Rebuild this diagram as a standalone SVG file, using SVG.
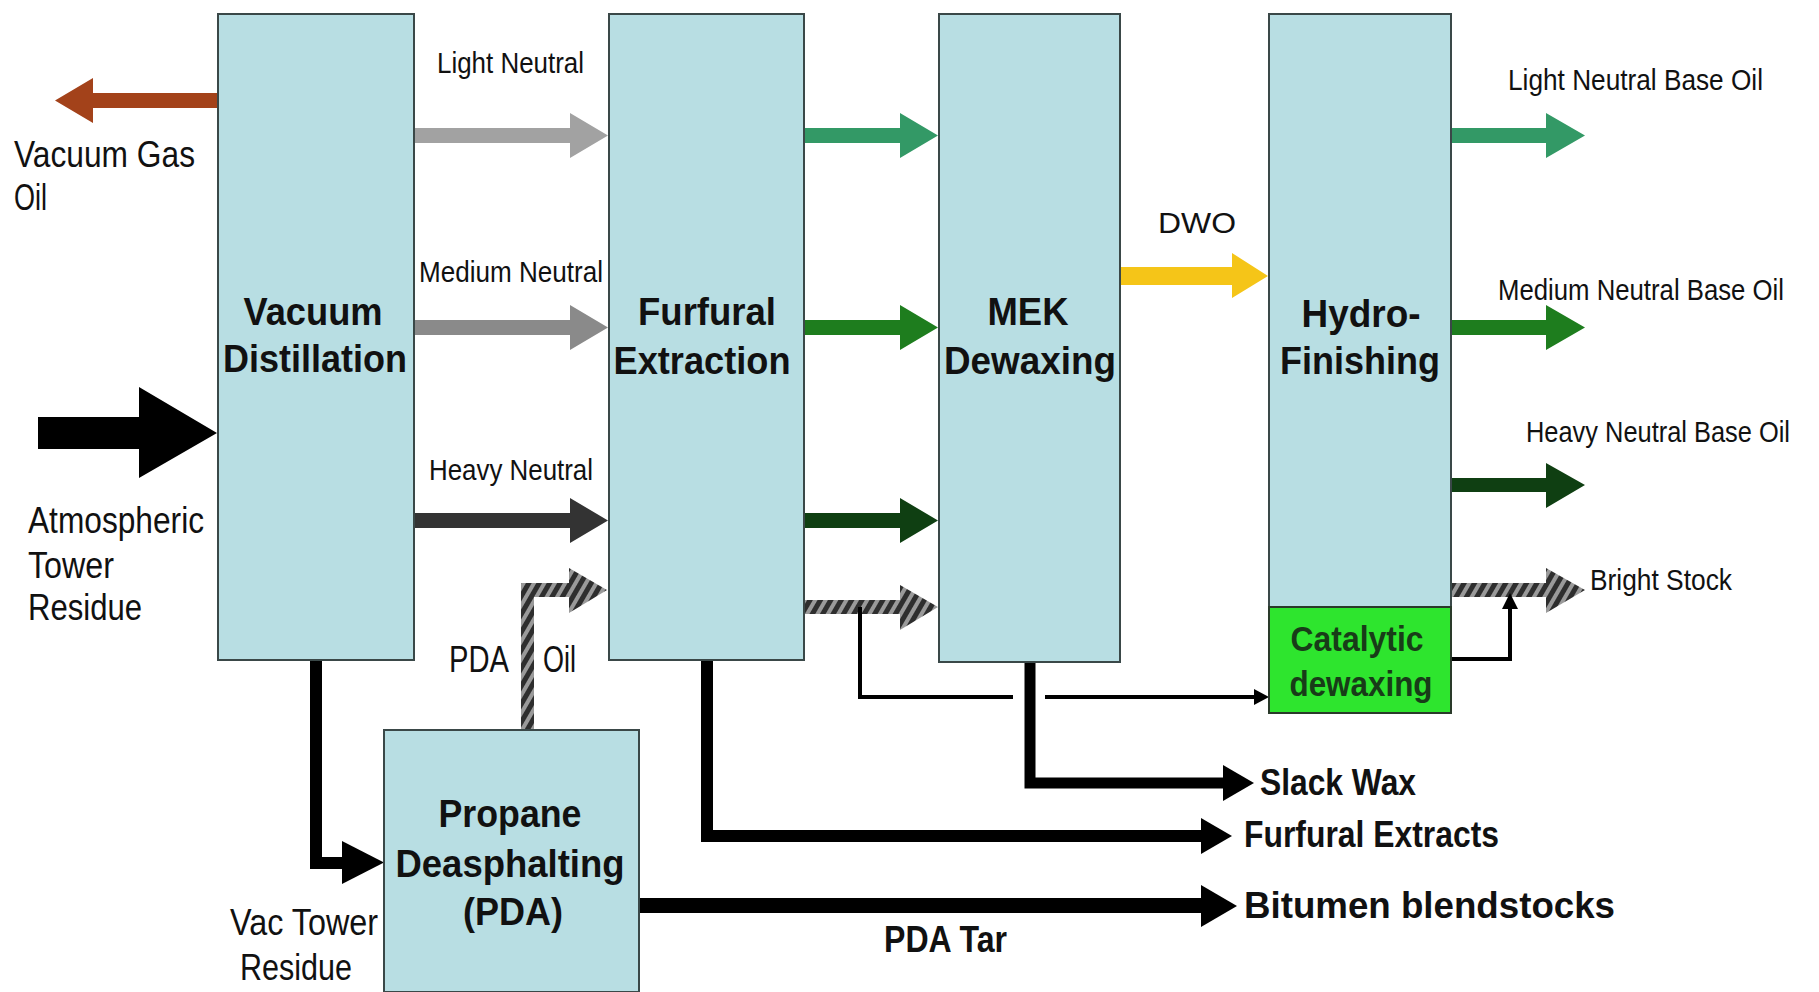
<svg xmlns="http://www.w3.org/2000/svg" width="1819" height="992" viewBox="0 0 1819 992">
<defs>
<pattern id="hatch" width="9" height="9" patternUnits="userSpaceOnUse" patternTransform="rotate(30)">
<rect width="9" height="9" fill="#9a9a9a"/>
<rect width="5" height="9" fill="#2e2e2e"/>
</pattern>
<style>
.box{fill:#b8dee3;stroke:#3a4848;stroke-width:2}
.cat{fill:#2ee52e;stroke:#2a3a2a;stroke-width:2}
.bl{font-family:"Liberation Sans",Arial,sans-serif;font-weight:bold;font-size:38px;fill:#111;text-anchor:middle}
.cl{font-family:"Liberation Sans",Arial,sans-serif;font-weight:bold;font-size:35px;fill:#183c18;text-anchor:middle}
.lab{font-family:"Liberation Sans",Arial,sans-serif;font-size:30px;fill:#111}
.big{font-family:"Liberation Sans",Arial,sans-serif;font-size:36px;fill:#111}
.out{font-family:"Liberation Sans",Arial,sans-serif;font-weight:bold;font-size:36px;fill:#111}
.thick{fill:none;stroke:#000;stroke-linejoin:miter}
.thin{fill:none;stroke:#000;stroke-width:4}
</style>
</defs>
<rect width="1819" height="992" fill="#ffffff"/>

<g id="connectors">
<polygon fill="#a3421a" points="218,93 93,93 93,78 55,100.5 93,123 93,108 218,108"/>
<polygon fill="#000" points="38,417 139,417 139,387 217,433 139,478 139,449 38,449"/>
<polygon fill="#a2a2a2" points="414,128 570,128 570,113 608,135.5 570,158 570,143 414,143"/>
<polygon fill="#8a8a8a" points="414,320 570,320 570,305 608,327.5 570,350 570,335 414,335"/>
<polygon fill="#333333" points="414,513 570,513 570,498 608,520.5 570,543 570,528 414,528"/>
<path fill="url(#hatch)" d="M521,730 L521,583 L569,583 L569,568 L607,590 L569,613 L569,597 L534,597 L534,730 Z"/>
<polygon fill="#339966" points="804,128 900,128 900,113 938,135.5 900,158 900,143 804,143"/>
<polygon fill="#1e7d1e" points="804,320 900,320 900,305 938,327.5 900,350 900,335 804,335"/>
<polygon fill="#0f3f12" points="804,513 900,513 900,498 938,520.5 900,543 900,528 804,528"/>
<polygon fill="url(#hatch)" points="804,600 900,600 900,585 938,607 900,630 900,614 804,614"/>
<polygon fill="#f5c518" points="1120,267 1232,267 1232,253 1268,276 1232,298 1232,285 1120,285"/>
<polygon fill="#339966" points="1451,128 1546,128 1546,113 1585,135.5 1546,158 1546,143 1451,143"/>
<polygon fill="#1e7d1e" points="1451,320 1546,320 1546,305 1585,327.5 1546,350 1546,335 1451,335"/>
<polygon fill="#0f3f12" points="1451,478 1546,478 1546,463 1585,485 1546,508 1546,492 1451,492"/>
<polygon fill="url(#hatch)" points="1451,583 1546,583 1546,568 1585,590 1546,613 1546,597 1451,597"/>
<polyline class="thick" stroke-width="12" points="316,660 316,863 344,863"/>
<polygon fill="#000" points="342,841 384,862.5 342,884"/>
<polyline class="thick" stroke-width="12" points="707,660 707,836 1203,836"/>
<polygon fill="#000" points="1201,818 1232,836 1201,854"/>
<polyline class="thick" stroke-width="11" points="1030,662 1030,783 1225,783"/>
<polygon fill="#000" points="1223,765 1254,783 1223,801"/>
<line class="thick" stroke-width="15" x1="639" y1="905.5" x2="1203" y2="905.5"/>
<polygon fill="#000" points="1201,885 1237,906 1201,927"/>
<polyline class="thin" points="860,607 860,697 1013,697"/>
<line class="thin" x1="1045" y1="697" x2="1256" y2="697"/>
<polygon fill="#000" points="1254,689 1269,697 1254,705"/>
<polyline class="thin" points="1451,659 1510,659 1510,606"/>
<polygon fill="#000" points="1502,609 1510,593 1518,609"/>
</g>

<g id="vacuum-distillation">
<rect class="box" x="218" y="14" width="196" height="646"/>
<text class="bl" x="313" y="325" textLength="139" lengthAdjust="spacingAndGlyphs">Vacuum</text>
<text class="bl" x="315" y="372" textLength="184" lengthAdjust="spacingAndGlyphs">Distillation</text>
</g>

<g id="furfural-extraction">
<rect class="box" x="609" y="14" width="195" height="646"/>
<text class="bl" x="707" y="325" textLength="138" lengthAdjust="spacingAndGlyphs">Furfural</text>
<text class="bl" x="702" y="374" textLength="177" lengthAdjust="spacingAndGlyphs">Extraction</text>
</g>

<g id="mek-dewaxing">
<rect class="box" x="939" y="14" width="181" height="648"/>
<text class="bl" x="1028" y="325" textLength="81" lengthAdjust="spacingAndGlyphs">MEK</text>
<text class="bl" x="1030" y="374" textLength="172" lengthAdjust="spacingAndGlyphs">Dewaxing</text>
</g>

<g id="hydro-finishing">
<rect class="box" x="1269" y="14" width="182" height="593"/>
<text class="bl" x="1361" y="327" textLength="119" lengthAdjust="spacingAndGlyphs">Hydro-</text>
<text class="bl" x="1360" y="374" textLength="160" lengthAdjust="spacingAndGlyphs">Finishing</text>
</g>

<g id="catalytic-dewaxing">
<rect class="cat" x="1269" y="607" width="182" height="106"/>
<text class="cl" x="1357" y="651" textLength="133" lengthAdjust="spacingAndGlyphs">Catalytic</text>
<text class="cl" x="1361" y="696" textLength="143" lengthAdjust="spacingAndGlyphs">dewaxing</text>
</g>

<g id="propane-deasphalting">
<rect class="box" x="384" y="730" width="255" height="262"/>
<text class="bl" x="510" y="827" textLength="143" lengthAdjust="spacingAndGlyphs">Propane</text>
<text class="bl" x="510" y="877" textLength="229" lengthAdjust="spacingAndGlyphs">Deasphalting</text>
<text class="bl" x="513" y="925" textLength="100" lengthAdjust="spacingAndGlyphs">(PDA)</text>
</g>

<g id="labels">
<text class="big" x="14" y="167" textLength="181" lengthAdjust="spacingAndGlyphs">Vacuum Gas</text>
<text class="big" x="14" y="210" textLength="33" lengthAdjust="spacingAndGlyphs">Oil</text>
<text class="big" x="28" y="533" textLength="176" lengthAdjust="spacingAndGlyphs">Atmospheric</text>
<text class="big" x="28" y="578" textLength="86" lengthAdjust="spacingAndGlyphs">Tower</text>
<text class="big" x="28" y="620" textLength="114" lengthAdjust="spacingAndGlyphs">Residue</text>
<text class="lab" x="437" y="73" textLength="147" lengthAdjust="spacingAndGlyphs">Light Neutral</text>
<text class="lab" x="419" y="282" textLength="184" lengthAdjust="spacingAndGlyphs">Medium Neutral</text>
<text class="lab" x="429" y="480" textLength="164" lengthAdjust="spacingAndGlyphs">Heavy Neutral</text>
<text class="big" x="449" y="672" font-size="34" textLength="60" lengthAdjust="spacingAndGlyphs">PDA</text>
<text class="big" x="543" y="672" font-size="34" textLength="33" lengthAdjust="spacingAndGlyphs">Oil</text>
<text class="big" x="230" y="935" font-size="34" textLength="148" lengthAdjust="spacingAndGlyphs">Vac Tower</text>
<text class="big" x="240" y="980" font-size="34" textLength="112" lengthAdjust="spacingAndGlyphs">Residue</text>
<text class="out" x="884" y="952" font-size="34" textLength="123" lengthAdjust="spacingAndGlyphs">PDA Tar</text>
<text class="lab" x="1158" y="233" font-size="33" textLength="78" lengthAdjust="spacingAndGlyphs">DWO</text>
<text class="lab" x="1508" y="90" textLength="255" lengthAdjust="spacingAndGlyphs">Light Neutral Base Oil</text>
<text class="lab" x="1498" y="300" font-size="26" textLength="286" lengthAdjust="spacingAndGlyphs">Medium Neutral Base Oil</text>
<text class="lab" x="1526" y="442" font-size="26" textLength="264" lengthAdjust="spacingAndGlyphs">Heavy Neutral Base Oil</text>
<text class="lab" x="1590" y="590" textLength="142" lengthAdjust="spacingAndGlyphs">Bright Stock</text>
<text class="out" x="1260" y="795" textLength="156" lengthAdjust="spacingAndGlyphs">Slack Wax</text>
<text class="out" x="1244" y="847" textLength="255" lengthAdjust="spacingAndGlyphs">Furfural Extracts</text>
<text class="out" x="1244" y="918" font-size="39" textLength="371" lengthAdjust="spacingAndGlyphs">Bitumen blendstocks</text>
</g>
</svg>
